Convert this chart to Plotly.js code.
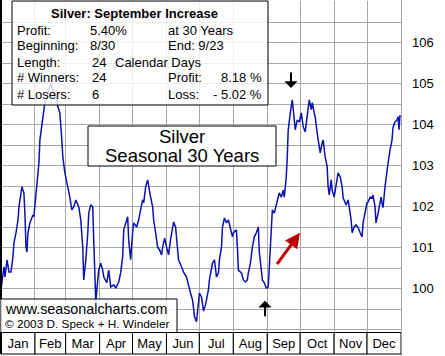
<!DOCTYPE html>
<html><head><meta charset="utf-8">
<script src="https://cdn.plot.ly/plotly-3.0.1.min.js"></script>
<style>html,body{margin:0;padding:0;background:#fff}#c{width:445px;height:356px}</style>
</head><body><div id="c"></div>
<script>
// ---- data ----
var days = [0,2.7,3.6,5.5,7.3,9.1,10.9,11.8,13.7,15.5,16.4,17.3,19.1,20.0,20.9,21.8,22.8,23.7,24.6,26.4,29.1,30.0,30.9,32.8,34.6,35.5,37.3,39.1,40.0,41.9,43.7,45.5,47.3,50.1,51.9,53.7,55.5,56.4,58.3,61.0,62.8,64.6,66.4,68.3,70.1,71.0,72.8,74.6,75.5,77.4,79.2,80.1,81.9,83.7,84.6,85.6,86.5,88.3,89.2,91.0,92.8,93.8,96.5,98.3,100.1,102.9,104.7,107.4,109.2,111.0,112.0,114.7,115.6,116.5,118.3,120.1,121.1,123.8,125.6,127.4,129.2,130.2,132.0,133.8,134.7,136.5,138.4,139.3,141.1,142.9,144.7,146.5,147.5,149.3,151.1,152.9,154.7,156.6,157.5,159.3,161.1,162.0,164.7,166.6,169.3,171.1,172.9,174.8,176.6,178.4,179.3,181.1,183.0,183.9,184.8,186.6,189.3,190.2,192.1,193.0,194.8,196.6,198.4,199.3,201.2,202.1,203.9,205.7,207.5,209.3,211.2,212.1,214.8,215.7,216.6,219.4,221.2,223.0,224.8,225.7,227.6,229.4,231.2,233.0,234.8,235.7,237.6,238.5,240.3,242.1,243.9,244.8,246.7,247.6,249.4,252.1,253.9,255.8,257.6,258.5,260.3,261.2,262.1,264.0,265.8,266.7,268.5,270.3,272.2,274.0,275.8,277.6,279.4,281.3,283.1,284.0,285.8,286.7,288.5,289.4,291.3,293.1,294.0,295.8,297.6,298.5,299.5,301.3,302.2,304.0,305.8,307.6,309.5,311.3,312.2,314.9,316.8,317.7,319.5,320.4,322.2,324.0,325.9,327.7,329.5,330.4,332.2,334.0,335.0,336.8,338.6,339.5,341.3,342.2,344.1,345.0,346.8,347.7,348.6,350.4,351.3,352.2,353.2,355.0,356.8,357.7,359.5,361.4,362.3,363.2,364.1];
var values = [99.98,100.54,100.29,100.71,100.41,100.41,100.78,101.12,101.37,101.68,102.00,102.17,102.49,102.41,102.34,101.85,101.02,100.90,101.37,101.61,101.80,101.76,102.00,102.49,103.07,103.63,104.05,104.37,104.54,104.68,104.85,105.02,104.85,104.68,104.44,104.29,103.63,103.22,102.83,102.49,102.24,101.93,102.00,102.17,102.05,102.00,101.68,101.02,100.22,100.71,101.37,101.85,102.05,102.00,101.20,99.98,99.68,100.22,100.46,100.63,100.46,100.29,100.15,100.46,100.05,100.10,100.02,100.17,100.39,100.78,101.44,101.68,101.76,101.20,100.71,101.37,101.61,101.51,101.68,101.93,102.17,102.10,102.49,102.66,102.49,102.24,102.00,101.68,101.37,101.02,100.95,100.83,101.02,101.24,101.02,100.83,101.20,101.51,101.63,101.51,101.02,100.71,100.54,100.41,100.29,100.05,99.90,99.73,99.32,99.20,99.49,99.90,99.80,99.66,99.46,99.61,99.98,100.22,100.46,100.63,100.71,100.29,100.39,100.71,101.02,101.51,101.73,101.61,101.68,101.51,101.27,101.37,101.44,101.02,100.46,100.39,100.22,100.17,100.22,100.39,100.63,101.02,101.27,101.37,101.51,100.90,100.46,100.22,100.15,100.02,100.05,100.46,101.37,101.93,101.85,102.17,102.34,102.24,102.41,102.24,102.73,103.22,103.88,104.29,104.61,104.37,103.88,104.12,104.07,104.29,103.95,103.83,104.20,104.61,104.37,104.54,104.29,104.20,103.80,103.63,103.32,103.56,103.63,103.22,102.98,102.49,102.29,102.66,102.41,102.24,102.49,102.83,102.73,102.49,102.22,102.05,102.17,102.00,101.68,101.37,101.51,101.56,101.49,101.37,101.27,101.61,101.85,102.10,102.12,102.24,102.22,102.29,102.00,101.61,101.85,101.98,102.24,102.10,101.98,102.49,102.73,102.98,103.07,103.39,103.63,103.93,104.07,104.12,104.20,103.88,104.24];
var months = ['Jan','Feb','Mar','Apr','May','Jun','Jul','Aug','Sep','Oct','Nov','Dec'];
var monthStarts = [0,31,59,90,120,151,181,212,243,273,304,334,365];
var yLabels = [100,101,102,103,104,105,106];
var infoTitle = 'Silver: September Increase';
var infoCol1 = ['Profit:','Beginning:','Length:','# Winners:','# Losers:'];
var infoCol2 = ['5.40%','8/30','24','24','6'];
var infoCol3 = ['at 30 Years','End: 9/23','','Profit:','Loss:'];
var infoCol4 = ['','','','8.18 %','- 5.02 %'];
var lengthUnit = 'Calendar Days';
var chartTitle = ['Silver','Seasonal 30 Years'];
var credits = ['www.seasonalcharts.com','\u00a9 2003 D. Speck + H. Windeler'];

// ---- layout helpers ----
var W = 445, H = 356, M = {l:1, r:44, t:1, b:24};
var PW = W - M.l - M.r, PH = H - M.t - M.b;
function px(x){ return (x - M.l) / PW; }
function py(y){ return 1 - (y - M.t) / PH; }
var FONT = 'Liberation Sans, Arial, sans-serif';

var monthMid = [], yGrid = [];
for (var i = 0; i < 12; i++) monthMid.push((monthStarts[i] + monthStarts[i+1]) / 2);
for (var g = 99; g <= 107; g += 0.5) yGrid.push(g);

var shapes = [];
// month boxes
for (var i = 0; i < 12; i++) {
  shapes.push({type:'rect', xref:'x', yref:'paper', x0:monthStarts[i], x1:monthStarts[i+1],
    y0:py(354), y1:py(332.5), line:{color:'#000', width:1}, fillcolor:'#fff', layer:'below'});
}
// borders
shapes.push({type:'line', xref:'paper', yref:'paper', x0:px(1), x1:px(1), y0:py(354), y1:py(0), line:{color:'#000', width:2}});
shapes.push({type:'line', xref:'paper', yref:'paper', x0:px(401.5), x1:px(401.5), y0:py(356), y1:py(0), line:{color:'#a0a0a0', width:1}});
// info box
shapes.push({type:'rect', xref:'paper', yref:'paper', x0:px(12), x1:px(268), y0:py(105), y1:py(1),
  line:{color:'#000', width:1}, fillcolor:'rgba(255,255,255,0.82)', layer:'above'});
// title box
shapes.push({type:'rect', xref:'paper', yref:'paper', x0:px(88), x1:px(276), y0:py(166), y1:py(126),
  line:{color:'#000', width:1}, fillcolor:'#fff', layer:'above'});
// credits box
shapes.push({type:'rect', xref:'paper', yref:'paper', x0:px(0), x1:px(177), y0:py(332.5), y1:py(299),
  line:{color:'#000', width:1}, fillcolor:'rgba(255,255,255,0.82)', layer:'above'});

var ann = [];
function txt(t, x, y, anchor, size, bold){
  ann.push({text: bold ? '<b>'+t+'</b>' : t, xref:'paper', yref:'paper', x:px(x), y:py(y),
    xanchor:anchor, yanchor:'middle', showarrow:false, font:{family:FONT, size:size, color:'#000'}});
}
txt(infoTitle, 134, 13, 'center', 13, true);
var rowsY = [30, 46, 62, 78, 94];
for (var r = 0; r < 5; r++) {
  txt(infoCol1[r], 15, rowsY[r], 'left', 13);
  txt(infoCol2[r], r >= 2 ? 90 : 88, rowsY[r], 'left', 13);
  if (infoCol3[r]) txt(infoCol3[r], 166, rowsY[r], 'left', 13);
  if (infoCol4[r]) txt(infoCol4[r], 264, rowsY[r], 'right', 13);
}
txt(lengthUnit, 113, rowsY[2], 'left', 13);
txt(chartTitle[0], 182, 136, 'center', 18.5);
txt(chartTitle[1], 182, 155, 'center', 18.5);
txt(credits[0], 3, 308.5, 'left', 14.3);
txt(credits[1], 3, 324, 'left', 11.8);

// arrows
ann.push({x:264.6, y:104.90, xref:'x', yref:'y', text:'', showarrow:true, ax:0, ay:-17,
  arrowhead:1, arrowsize:1.1, arrowwidth:2, arrowcolor:'#000', standoff:0});
ann.push({x:240.9, y:99.71, xref:'x', yref:'y', text:'', showarrow:true, ax:0, ay:17,
  arrowhead:1, arrowsize:1.1, arrowwidth:2, arrowcolor:'#000', standoff:0});
ann.push({x:272.8, y:101.37, xref:'x', yref:'y', text:'', showarrow:true, ax:-24, ay:33,
  arrowhead:2, arrowsize:1, arrowwidth:3, arrowcolor:'#c00000', standoff:0});

var trace = {x: days, y: values, type:'scatter', mode:'lines',
  line:{color:'#0a12b0', width:1.5}, hoverinfo:'skip'};

var layout = {
  width:W, height:H, margin:M, showlegend:false,
  paper_bgcolor:'#fff', plot_bgcolor:'#fff',
  font:{family:FONT, size:13, color:'#000'},
  xaxis:{range:[0,365], tickmode:'array', tickvals:monthMid, ticktext:months,
    showgrid:false, zeroline:false, showline:false, ticks:'', ticklabelstandoff:2,
    tickfont:{family:FONT, size:13, color:'#000'},
    minor:{tickmode:'array', tickvals:monthStarts.slice(1,12), showgrid:true, gridcolor:'#a8a8a8', gridwidth:1, ticks:''}},
  yaxis:{range:[98.95,107.02], side:'right', tickmode:'array', tickvals:yGrid,
    ticktext:yGrid.map(function(v){ return yLabels.indexOf(v) >= 0 ? String(v) : ''; }),
    showgrid:true, gridcolor:'#a8a8a8', gridwidth:1, zeroline:false, showline:false,
    ticks:'', ticklabelstandoff:10, tickfont:{family:FONT, size:13, color:'#000'}},
  shapes:shapes, annotations:ann
};
Plotly.newPlot('c', [trace], layout, {staticPlot:true, displayModeBar:false});
</script></body></html>
